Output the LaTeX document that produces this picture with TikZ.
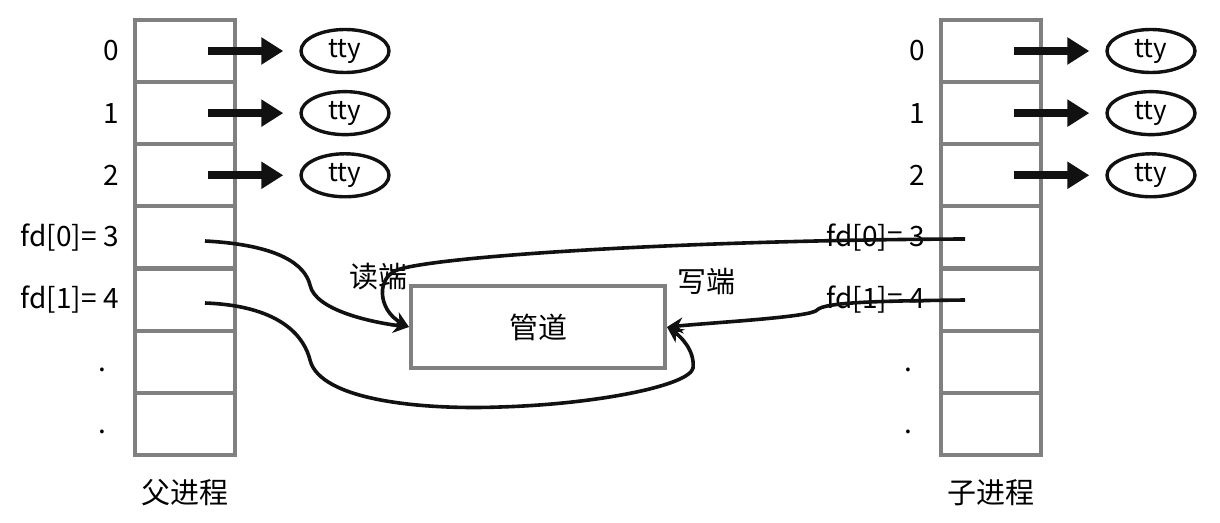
\documentclass[tikz,border=0pt]{standalone}
\usepackage{fontspec}
\setmainfont{Noto Sans CJK SC}
\usetikzlibrary{arrows.meta,shapes.geometric,positioning}
\definecolor{cellgray}{HTML}{808080}
\definecolor{inkblack}{HTML}{111111}
\tikzset{
  fdcell/.style={draw=cellgray,line width=2pt,minimum width=50pt,minimum height=31pt,inner sep=0pt},
  ttynode/.style={ellipse,draw=inkblack,line width=1.7pt,minimum width=44pt,minimum height=21.5pt,
    inner sep=0pt,font=\fontsize{13}{15}\selectfont},
  fdlabel/.style={font=\fontsize{14}{16}\selectfont,inner sep=0pt},
  cnlabel/.style={font=\fontsize{14.5}{17}\selectfont,inner sep=0pt},
  ttyarrow/.style={line width=4pt,inkblack,-{Triangle[length=11pt,width=13pt]},shorten >=8pt},
  pipearrow/.style={line width=1.8pt,inkblack,-{Stealth[length=8pt,width=8pt]}},
}
\begin{document}
\begin{tikzpicture}[x=0.5pt,y=-0.5pt]
\useasboundingbox (0,0) rectangle (1220,523);

% two fd tables
\foreach \s/\dx/\who in {p/0/父进程,c/806/子进程}{
  \foreach \i in {0,...,6}{
    \node[fdcell] (\s\i) at (185+\dx,51+62.14*\i) {};
  }
  \foreach \i/\lbl in {0/0,1/1,2/2,3/{fd[0]= 3},4/{fd[1]= 4}}{
    \node[fdlabel,left=7pt of \s\i] (\s-l\i) {\lbl};
  }
  \foreach \i in {5,6}{
    \node[fdlabel,left=13pt of \s\i,yshift=-4pt] (\s-l\i) {.};
  }
  \foreach \i in {0,1,2}{
    \node[ttynode] (\s-t\i) at (345+\dx,51+62.14*\i) {tty};
    \coordinate (\s-a\i) at (208+\dx,51+62.14*\i);
    \draw[ttyarrow] (\s-a\i) -- (\s-t\i);
  }
  \node[cnlabel] (\s-name) at (185+\dx,493) {\who};
}

\node[fdcell,minimum width=127pt,minimum height=41pt,font=\fontsize{14.5}{17}\selectfont]
  (pipe) at (538,327) {管道};
\node[cnlabel] (readlbl) at (378,277) {读端};
\node[cnlabel] (writelbl) at (706,282) {写端};

\coordinate (pr) at (205,241);
\coordinate (pw) at (205,303);
\coordinate (cr) at (965,239);
\coordinate (cw) at (965,300);

\draw[pipearrow] (pr) .. controls (280,245) and (305,265) .. (310,285)
  .. controls (315,310) and (370,322) .. (pipe.west);
\draw[pipearrow] (pw) .. controls (285,306) and (305,340) .. (310,360)
  .. controls (320,400) and (420,410) .. (500,407)
  .. controls (600,404) and (690,385) .. (693,368)
  .. controls (695,350) and (680,336) .. (pipe.east);
\draw[pipearrow] (cr) .. controls (700,240) and (450,255) .. (400,269)
  .. controls (375,276) and (378,310) .. (pipe.west);
\draw[pipearrow] (cw) .. controls (880,301) and (825,302) .. (817,310)
  .. controls (812,317) and (720,322) .. (pipe.east);

\end{tikzpicture}
\end{document}
